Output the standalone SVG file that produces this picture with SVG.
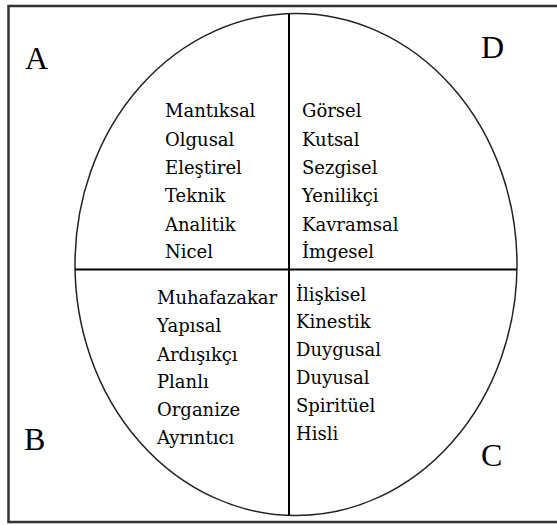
<svg xmlns="http://www.w3.org/2000/svg" width="557" height="525" viewBox="0 0 557 525">
<style>
.t{font-family:"DejaVu Serif","Liberation Serif",serif;font-size:18px;fill:#000}
.q{font-family:"Liberation Serif","Times New Roman",serif;font-size:32px;fill:#000}
</style>
<rect width="557" height="525" fill="#fff"/>
<rect x="8.5" y="6" width="560" height="516" fill="none" stroke="#333" stroke-width="2.5"/>
<g id="connectors">
<ellipse cx="296" cy="264.5" rx="221" ry="251" fill="none" stroke="#222" stroke-width="1.5"/>
<line x1="289" y1="14" x2="289" y2="515" stroke="#000" stroke-width="2"/>
<line x1="75" y1="269.5" x2="517" y2="269.5" stroke="#000" stroke-width="2"/>
</g>
<g id="A"><text class="q" x="25" y="69">A</text></g>
<g id="D"><text class="q" x="481" y="58">D</text></g>
<g id="B"><text class="q" x="24" y="450">B</text></g>
<g id="C"><text class="q" x="481" y="466">C</text></g>
<g id="quadA">
<text class="t" x="165" y="117">Mantıksal</text>
<text class="t" x="165" y="146">Olgusal</text>
<text class="t" x="165" y="174">Eleştirel</text>
<text class="t" x="165" y="202">Teknik</text>
<text class="t" x="165" y="231">Analitik</text>
<text class="t" x="165" y="258">Nicel</text>
</g>
<g id="quadD">
<text class="t" x="302" y="117">Görsel</text>
<text class="t" x="302" y="146">Kutsal</text>
<text class="t" x="302" y="174">Sezgisel</text>
<text class="t" x="302" y="202">Yenilikçi</text>
<text class="t" x="302" y="231">Kavramsal</text>
<text class="t" x="302" y="258">İmgesel</text>
</g>
<g id="quadB">
<text class="t" x="157" y="304">Muhafazakar</text>
<text class="t" x="157" y="332">Yapısal</text>
<text class="t" x="157" y="361">Ardışıkçı</text>
<text class="t" x="157" y="388">Planlı</text>
<text class="t" x="157" y="416">Organize</text>
<text class="t" x="157" y="444">Ayrıntıcı</text>
</g>
<g id="quadC">
<text class="t" x="296" y="301">İlişkisel</text>
<text class="t" x="296" y="328">Kinestik</text>
<text class="t" x="296" y="356">Duygusal</text>
<text class="t" x="296" y="384">Duyusal</text>
<text class="t" x="296" y="412">Spiritüel</text>
<text class="t" x="296" y="440">Hisli</text>
</g>
</svg>
